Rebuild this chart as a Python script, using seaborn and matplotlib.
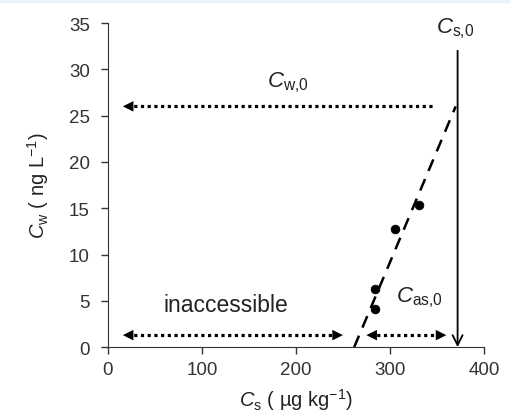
import matplotlib
matplotlib.use("Agg")
import matplotlib.pyplot as plt
import seaborn as sns
import pandas as pd
from matplotlib.patches import Rectangle

# measured points
cs_points = [284, 284, 305, 331]
cw_points = [4.1, 6.3, 12.8, 15.4]

# extrapolated fit line
fit_cs = [262, 370]
fit_cw = [0, 26]

# C_s,0 and C_w,0
cs0 = 372
cs0_top = 32
cw0 = 26
cw0_from, cw0_to = 348, 16

# bottom ranges
arrow_y = 1.3
inacc_from, inacc_to = 16, 250
cas_from, cas_to = 275, 360

sns.set_style("ticks")
plt.rcParams["font.family"] = ["Liberation Sans", "DejaVu Sans"]
plt.rcParams["mathtext.fontset"] = "custom"
plt.rcParams["mathtext.rm"] = "Liberation Sans"
plt.rcParams["mathtext.it"] = "Liberation Sans:italic"

fig = plt.figure(figsize=(5.11, 4.14), dpi=100)
# faint band along the top edge of the original image
fig.patches.append(Rectangle((0, 0.992), 1, 0.008, transform=fig.transFigure,
                             color="#eef3f9", zorder=0))
ax = fig.add_axes([0.211, 0.159, 0.736, 0.783])

df = pd.DataFrame({"cs": cs_points, "cw": cw_points})
sns.scatterplot(data=df, x="cs", y="cw", color="black", s=40, edgecolor="black", ax=ax, zorder=3)
sns.lineplot(x=fit_cs, y=fit_cw, color="black", linestyle=(0, (5, 3.5)), linewidth=1.8, ax=ax)

# vertical C_s,0 arrow
ax.annotate("", xy=(cs0, 0), xytext=(cs0, cs0_top),
            arrowprops=dict(arrowstyle="->", color="black", lw=1.3, mutation_scale=18,
                            shrinkA=0, shrinkB=0))


def dotted_arrow(x0, x1, y, heads):
    # dotted shaft plus solid triangular heads
    sns.lineplot(x=[x0, x1], y=[y, y], color="black", linestyle=(0, (1, 1.1)),
                 linewidth=2.3, ax=ax)
    for tip, sign in heads:
        ax.annotate("", xy=(tip, y), xytext=(sign * 10, 0), textcoords="offset points",
                    arrowprops=dict(arrowstyle="-|>", color="black", lw=0,
                                    mutation_scale=19, shrinkA=0, shrinkB=0))


dotted_arrow(cw0_to + 4, cw0_from, cw0, [(cw0_to, 1)])
dotted_arrow(inacc_from + 4, inacc_to - 4, arrow_y, [(inacc_from, 1), (inacc_to, -1)])
dotted_arrow(cas_from + 4, cas_to - 4, arrow_y, [(cas_from, 1), (cas_to, -1)])

ax.text(191, 28.7, r"$C_\mathrm{w{,}0}$", fontsize=16, ha="center", va="center", color="#222")
ax.text(369, 34.5, r"$C_\mathrm{s{,}0}$", fontsize=16, ha="center", va="center", color="#222", clip_on=False)
ax.text(331, 5.4, r"$C_\mathrm{as{,}0}$", fontsize=16, ha="center", va="center", color="#222")
ax.text(126, 4.6, "inaccessible", fontsize=16.5, ha="center", va="center", color="#222")

ax.set_xlim(0, 400)
ax.set_ylim(0, 35)
ax.set_xticks([0, 100, 200, 300, 400])
ax.set_yticks(range(0, 36, 5))
ax.tick_params(labelsize=13.5, colors="#333", length=5, width=1)
ax.tick_params(axis="y", pad=8)
ax.tick_params(axis="x", pad=5)
ax.set_xlabel(r"$C_\mathrm{s}$ ( µg kg$^{-1}$)", fontsize=14.5, color="#222", labelpad=6)
ax.set_ylabel(r"$C_\mathrm{w}$ ( ng L$^{-1}$)", fontsize=14.5, color="#222", labelpad=13)
sns.despine(ax=ax)
for s in ["left", "bottom"]:
    ax.spines[s].set_color("#333")

fig.savefig("out.png", dpi=100)
